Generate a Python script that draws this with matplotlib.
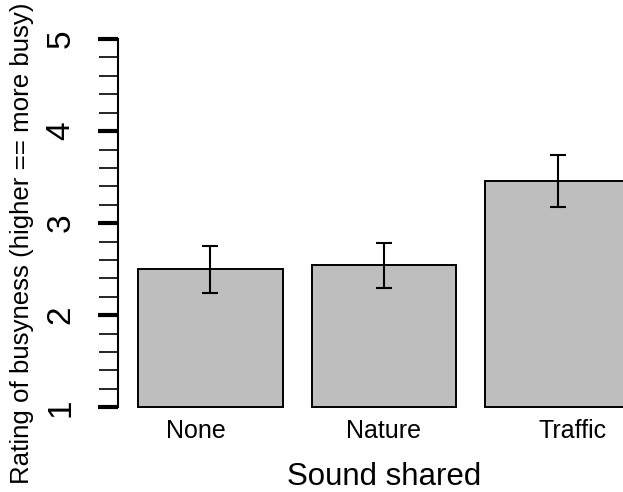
import matplotlib
matplotlib.use("Agg")
import matplotlib.pyplot as plt
from matplotlib.ticker import MultipleLocator

plt.rcParams['font.family'] = ['Liberation Sans', 'DejaVu Sans']

# condition means and error bar limits
sounds = ["None", "Nature", "Traffic"]
means = [2.50, 2.545, 3.46]
err_low = [2.24, 2.30, 3.18]
err_high = [2.75, 2.787, 3.743]
# where the axis labels were put (not quite the bar centres)
label_at = [0.6, 1.9, 3.2]

# R barplot layout: width 1, space 0.2
pos = [0.7 + 1.2 * i for i in range(len(sounds))]

fig = plt.figure(figsize=(6.23, 4.92), dpi=100)
ax = fig.add_axes([0.1894, 0.1423, 0.8539, 0.8083])

ax.bar(pos, [m - 1 for m in means], bottom=1, width=1.0,
       color="#bebebe", edgecolor="black", linewidth=1.4, zorder=2)

yerr = [[m - lo for m, lo in zip(means, err_low)],
        [hi - m for m, hi in zip(means, err_high)]]
ax.errorbar(pos, means, yerr=yerr, fmt="none", ecolor="black",
            elinewidth=1.5, capsize=5.6, capthick=1.5, zorder=3)

ax.set_xlim(0.064, 3.736)
ax.set_ylim(0.84, 5.16)

for s in ["top", "right", "bottom"]:
    ax.spines[s].set_visible(False)
ax.spines["left"].set_bounds(1, 5)
ax.spines["left"].set_linewidth(1.5)

ax.yaxis.set_major_locator(MultipleLocator(1))
ax.yaxis.set_minor_locator(MultipleLocator(0.2))
ax.tick_params(axis="y", which="major", length=14.4, width=3, pad=15.5,
               labelsize=24)
ax.tick_params(axis="y", which="minor", length=14, width=1.2)
for lbl in ax.get_yticklabels():
    lbl.set_rotation(90)
    lbl.set_va("center")

ax.set_xticks(label_at)
ax.set_xticklabels(sounds)
ax.tick_params(axis="x", length=0, pad=-2.5, labelsize=18)

fig.text(384 / 623, 0.0142, "Sound shared", ha="center", va="baseline",
         fontsize=22.5)
fig.text(22 / 623, 0.505, "Rating of busyness (higher == more busy)",
         rotation=90, ha="center", va="center", fontsize=18.6)

fig.savefig("out.png", dpi=100)
